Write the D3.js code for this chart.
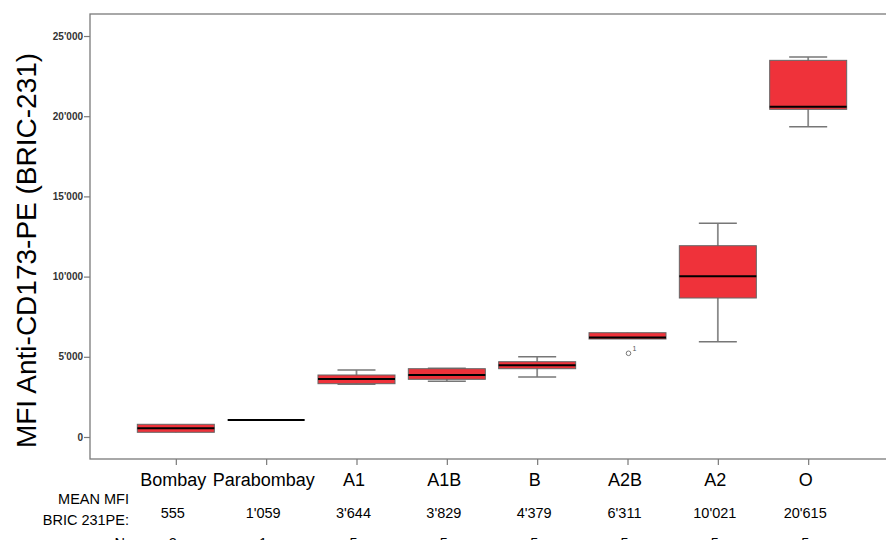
<!DOCTYPE html>
<html>
<head>
<meta charset="utf-8">
<script src="https://cdn.jsdelivr.net/npm/d3@7"></script>
<style>
  body { margin: 0; background: #fff; }
  text { font-family: "Liberation Sans", Arial, sans-serif; }
</style>
</head>
<body>
<div id="chart"></div>
<script>
const categories = ["Bombay", "Parabombay", "A1", "A1B", "B", "A2B", "A2", "O"]
const whiskerLow  = [293, 1059, 3285, 3472, 3740, 6109, 5941, 19344]
const q1          = [293, 1059, 3323, 3597, 4258, 6109, 8665, 20429]
const median      = [542, 1059, 3616, 3865, 4470, 6200, 10018, 20591]
const q3          = [792, 1059, 3865, 4258, 4694, 6502, 11926, 23483]
const whiskerHigh = [792, 1059, 4177, 4290, 5006, 6502, 13322, 23689]
const meanLabels  = ["555", "1'059", "3'644", "3'829", "4'379", "6'311", "10'021", "20'615"]
const counts      = [2, 1, 5, 5, 5, 5, 5, 5]
const outliers    = [{cat: "A2B", value: 5218, label: "1"}]
const yTicks      = [0, 5000, 10000, 15000, 20000, 25000]

const width = 886,
      height = 540,
      margin = {top: 14, right: -8, bottom: 81, left: 90}

const data = categories.map((c, i) => ({
  cat: c,
  lo: whiskerLow[i], q1: q1[i], med: median[i], q3: q3[i], hi: whiskerHigh[i],
  mean: meanLabels[i], n: counts[i]
}))

let x = d3.scalePoint()
    .domain(categories)
    .range([margin.left, width - margin.right])
    .padding(0.95)

let y = d3.scaleLinear()
    .domain([-1372, 26372])
    .range([height - margin.bottom, margin.top])

const boxW = 77, capW = 38
const fmt = v => d3.format(",")(v).replace(/,/g, "'")

var svg = d3.select("#chart")
  .append("svg")
  .attr("width", width)
  .attr("height", height)
  .attr("viewBox", [0, 0, width, height])

// frame
svg.append("rect")
  .attr("x", margin.left)
  .attr("y", margin.top)
  .attr("width", width - margin.right - margin.left)
  .attr("height", height - margin.bottom - margin.top)
  .attr("fill", "none")
  .attr("stroke", "#7a7a7a")
  .attr("stroke-width", 1.3)

// y axis
let yAxis = g => g
    .attr("transform", `translate(${margin.left},0)`)
    .call(d3.axisLeft(y).tickValues(yTicks).tickFormat(fmt).tickSize(6).tickPadding(1))
    .call(g => g.select(".domain").remove())
    .call(g => g.selectAll(".tick line").attr("stroke", "#7a7a7a").attr("stroke-width", 1.2))
    .call(g => g.selectAll(".tick text")
        .attr("fill", "#333")
        .attr("font-size", 10)
        .attr("font-weight", "bold")
        .attr("font-family", "Liberation Sans, Arial, sans-serif"))

svg.append("g").call(yAxis)

// x axis ticks + labels
let xAxis = g => g
    .attr("transform", `translate(0,${height - margin.bottom})`)
    .call(d3.axisBottom(x).tickSize(6).tickPadding(8))
    .call(g => g.select(".domain").remove())
    .call(g => g.selectAll(".tick line").attr("stroke", "#7a7a7a").attr("stroke-width", 1.2))
    .call(g => g.selectAll(".tick text")
        .attr("dx", -3)
        .attr("fill", "#000")
        .attr("font-size", 18)
        .attr("font-family", "Liberation Sans, Arial, sans-serif"))

svg.append("g").call(xAxis)

// whiskers
const box = svg.append("g")
  .selectAll("g")
  .data(data)
  .join("g")

box.append("line")
  .attr("x1", d => x(d.cat)).attr("x2", d => x(d.cat))
  .attr("y1", d => y(d.hi)).attr("y2", d => y(d.lo))
  .attr("stroke", "#8a8a8a")
  .attr("stroke-width", 1.8)

box.filter(d => d.hi > d.q3).append("line")
  .attr("x1", d => x(d.cat) - capW / 2).attr("x2", d => x(d.cat) + capW / 2)
  .attr("y1", d => y(d.hi)).attr("y2", d => y(d.hi))
  .attr("stroke", "#777")
  .attr("stroke-width", 1.6)

box.filter(d => d.lo < d.q1).append("line")
  .attr("x1", d => x(d.cat) - capW / 2).attr("x2", d => x(d.cat) + capW / 2)
  .attr("y1", d => y(d.lo)).attr("y2", d => y(d.lo))
  .attr("stroke", "#777")
  .attr("stroke-width", 1.6)

box.append("rect")
  .attr("x", d => x(d.cat) - boxW / 2)
  .attr("width", boxW)
  .attr("y", d => y(d.q3))
  .attr("height", d => y(d.q1) - y(d.q3))
  .attr("fill", "#ef323a")
  .attr("stroke", "#666")
  .attr("stroke-width", 1)

box.append("line")
  .attr("x1", d => x(d.cat) - boxW / 2).attr("x2", d => x(d.cat) + boxW / 2)
  .attr("y1", d => y(d.med)).attr("y2", d => y(d.med))
  .attr("stroke", "#000")
  .attr("stroke-width", 2)

// outliers
const out = svg.append("g")
  .selectAll("g")
  .data(outliers)
  .join("g")

out.append("circle")
  .attr("cx", d => x(d.cat) + 1)
  .attr("cy", d => y(d.value))
  .attr("r", 2.3)
  .attr("fill", "none")
  .attr("stroke", "#777")
  .attr("stroke-width", 1)

out.append("text")
  .attr("x", d => x(d.cat) + 5)
  .attr("y", d => y(d.value) - 2)
  .attr("font-size", 7)
  .attr("fill", "#555")
  .text(d => d.label)

// y title
svg.append("text")
  .attr("transform", `translate(36,${(y.range()[0] + y.range()[1]) / 2 + 14}) rotate(-90)`)
  .attr("text-anchor", "middle")
  .attr("font-size", 28)
  .attr("fill", "#000")
  .text("MFI Anti-CD173-PE (BRIC-231)")

// table under the axis
svg.append("text")
  .attr("x", 129).attr("y", 503.5)
  .attr("text-anchor", "end")
  .attr("font-size", 14.5)
  .text("MEAN MFI")

svg.append("text")
  .attr("x", 129).attr("y", 525)
  .attr("text-anchor", "end")
  .attr("font-size", 14.5)
  .text("BRIC 231PE:")

svg.append("text")
  .attr("x", 129).attr("y", 548)
  .attr("text-anchor", "end")
  .attr("font-size", 14.5)
  .text("N:")

svg.append("g")
  .selectAll("text")
  .data(data)
  .join("text")
  .attr("x", d => x(d.cat) - 3)
  .attr("y", 518)
  .attr("text-anchor", "middle")
  .attr("font-size", 14.5)
  .text(d => d.mean)

svg.append("g")
  .selectAll("text")
  .data(data)
  .join("text")
  .attr("x", d => x(d.cat) - 3)
  .attr("y", 548)
  .attr("text-anchor", "middle")
  .attr("font-size", 14.5)
  .text(d => d.n)
</script>
</body>
</html>
